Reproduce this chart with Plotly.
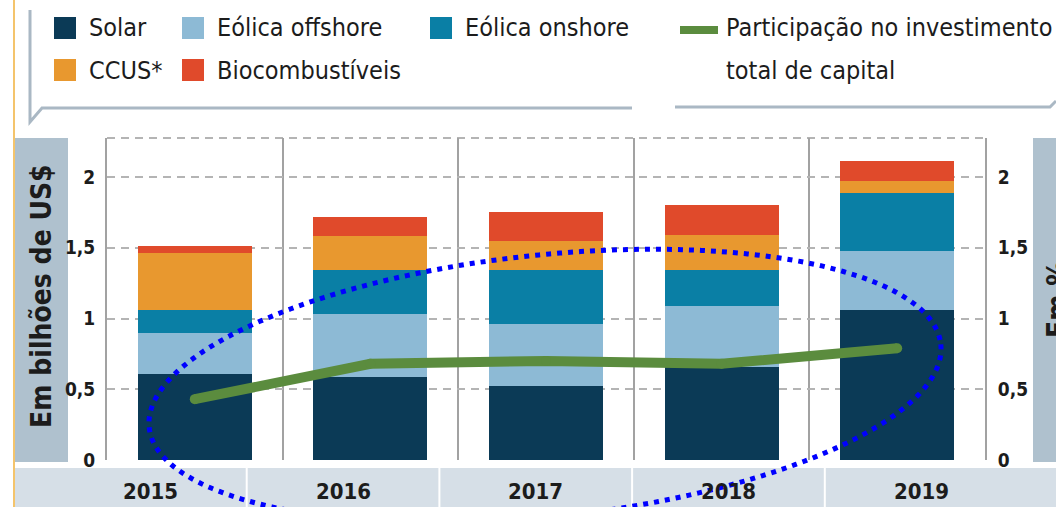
import numpy as np
import plotly.graph_objects as go

# ---- data (billions of US$ and % of total capital investment) ----
years = ["2015", "2016", "2017", "2018", "2019"]
solar = [0.61, 0.59, 0.52, 0.66, 1.06]
eolica_offshore = [0.29, 0.44, 0.44, 0.43, 0.42]
eolica_onshore = [0.16, 0.31, 0.38, 0.25, 0.41]
ccus = [0.40, 0.24, 0.21, 0.25, 0.08]
biocombustiveis = [0.05, 0.14, 0.20, 0.21, 0.14]
participacao = [0.43, 0.68, 0.70, 0.68, 0.79]

y_ticks = [0, 0.5, 1, 1.5, 2]
y_tick_labels = ["0", "0,5", "1", "1,5", "2"]

series_names = ["Solar", "Eólica offshore", "Eólica onshore", "CCUS*", "Biocombustíveis"]
line_label = ["Participação no investimento", "total de capital"]
y_title_left = "Em bilhões de US$"
y_title_right = "Em %"

# ---- styling ----
colors = ["#0b3a56", "#8dbad5", "#0a7fa5", "#e8982f", "#e04a2b"]
green = "#5b8c3e"
grid_col = "#b4b4b4"
axis_col = "#a2a2a2"
box_col = "#afc1ce"
band_col = "#d6dfe7"
bracket_col = "#aab8c4"
text_col = "#1c1c1c"
cond = "DejaVu Sans Condensed, Liberation Sans, sans-serif"

W, H = 1056, 507
ML, MR, MT, MB = 55, 38, 138, 47
PW, PH = W - ML - MR, H - MT - MB


def px(x):
    return (x - ML) / PW


def py(y):
    return (H - MB - y) / PH


fig = go.Figure()

for name, vals, col in zip(series_names, [solar, eolica_offshore, eolica_onshore, ccus, biocombustiveis], colors):
    fig.add_trace(go.Bar(x=years, y=vals, name=name, marker=dict(color=col, line=dict(width=0)),
                         width=0.65, showlegend=False, hoverinfo="x+y+name"))

fig.add_trace(go.Scatter(x=years, y=participacao, yaxis="y2", mode="lines+markers",
                         name=" ".join(line_label),
                         line=dict(color=green, width=10),
                         marker=dict(size=10, color=green), showlegend=False))

shapes = []
# left accent border
shapes.append(dict(type="line", xref="paper", yref="paper", x0=px(14), x1=px(14), y0=py(510), y1=py(-3),
                   line=dict(color="#f4c46c", width=2), layer="below"))
# axis-title boxes
shapes.append(dict(type="rect", xref="paper", yref="paper", x0=px(15), x1=px(68), y0=py(462), y1=py(138),
                   fillcolor=box_col, line=dict(width=0), layer="below"))
shapes.append(dict(type="rect", xref="paper", yref="paper", x0=px(1033), x1=px(1062), y0=py(462), y1=py(138),
                   fillcolor=box_col, line=dict(width=0), layer="below"))
# year band
shapes.append(dict(type="rect", xref="paper", yref="paper", x0=px(15), x1=px(1062), y0=py(512), y1=py(468),
                   fillcolor=band_col, line=dict(width=0), layer="below"))
cell_w = 192.7
cell_x0 = 54
for k in range(1, len(years)):
    xs = cell_x0 + cell_w * k
    shapes.append(dict(type="line", xref="paper", yref="paper", x0=px(xs), x1=px(xs), y0=py(512), y1=py(468),
                       line=dict(color="white", width=2), layer="below"))
# top dashed border of the plot
shapes.append(dict(type="line", xref="paper", yref="paper", x0=px(107), x1=px(985), y0=1, y1=1,
                   line=dict(color=grid_col, width=2, dash="8px,6px"), layer="below"))

# legend frame
pts_l = [(30, 10), (30, 122), (42, 108), (632, 108)]
shapes.append(dict(type="path", xref="paper", yref="paper",
                   path="M " + " L ".join(f"{px(a)},{py(b)}" for a, b in pts_l),
                   line=dict(color=bracket_col, width=3)))
pts_r = [(675, 107), (1050, 107), (1056, 101)]
shapes.append(dict(type="path", xref="paper", yref="paper",
                   path="M " + " L ".join(f"{px(a)},{py(b)}" for a, b in pts_r),
                   line=dict(color=bracket_col, width=3)))

# legend swatches
sw = 22
slots = [(54, 17), (182, 17), (430, 17), (54, 59), (182, 59)]
annotations = []
for (sx, sy), name, col in zip(slots, series_names, colors):
    shapes.append(dict(type="rect", xref="paper", yref="paper", x0=px(sx), x1=px(sx + sw),
                       y0=py(sy + sw), y1=py(sy), fillcolor=col, line=dict(width=0)))
    annotations.append(dict(text=name, xref="paper", yref="paper", x=px(sx + sw + 11), y=py(sy + sw / 2),
                            xanchor="left", yanchor="middle", showarrow=False,
                            font=dict(family=cond, size=25, color=text_col)))
shapes.append(dict(type="line", xref="paper", yref="paper", x0=px(680), x1=px(718), y0=py(30), y1=py(30),
                   line=dict(color=green, width=8)))
for i, ln in enumerate(line_label):
    annotations.append(dict(text=ln, xref="paper", yref="paper", x=px(724), y=py(28 + 42 * i),
                            xanchor="left", yanchor="middle", showarrow=False,
                            font=dict(family=cond, size=25, color=text_col)))

# year labels in the band
for i, yr in enumerate(years):
    annotations.append(dict(text=yr, xref="paper", yref="paper", x=px(cell_x0 + cell_w * (i + 0.5)), y=py(491),
                            xanchor="center", yanchor="middle", showarrow=False,
                            font=dict(family=cond, size=22, color=text_col, weight="bold")))

# axis titles (the right-hand one runs off the page edge)
annotations.append(dict(text=y_title_left, xref="paper", yref="paper", x=px(41), y=py(296), textangle=-90,
                        xanchor="center", yanchor="middle", showarrow=False,
                        font=dict(family=cond, size=28, color=text_col, weight="bold")))
annotations.append(dict(text=y_title_right, xref="paper", yref="paper", x=px(1057), y=py(300), textangle=-90,
                        xanchor="center", yanchor="middle", showarrow=False,
                        font=dict(family=cond, size=28, color=text_col, weight="bold")))

# highlight ellipse around the share line
cx, cy, ea, eb, th = 545, 386, 398, 131, np.deg2rad(-6)
t = np.linspace(0, 2 * np.pi, 240)
ex = cx + ea * np.cos(t) * np.cos(th) - eb * np.sin(t) * np.sin(th)
ey = cy + ea * np.cos(t) * np.sin(th) + eb * np.sin(t) * np.cos(th)
shapes.append(dict(type="path", xref="paper", yref="paper",
                   path="M " + " L ".join(f"{px(a):.5f},{py(b):.5f}" for a, b in zip(ex, ey)) + " Z",
                   line=dict(color="#0000ff", width=5, dash="5px,6px"), layer="above"))

yr_range = [0, (H - MB - MT) / 141.5]
tickfont = dict(family=cond, size=19, color=text_col, weight="bold")

fig.update_layout(
    width=W, height=H,
    margin=dict(l=ML, r=MR, t=MT, b=MB, pad=0),
    paper_bgcolor="white", plot_bgcolor="white",
    barmode="stack", showlegend=False,
    shapes=shapes, annotations=annotations,
    xaxis=dict(domain=[px(107), px(985)], type="category", range=[-0.5, 4.5],
               showticklabels=False, ticks="", tickson="boundaries",
               showgrid=True, gridcolor=axis_col, gridwidth=2,
               zeroline=False, showline=False),
    yaxis=dict(range=yr_range, tickvals=y_ticks, ticktext=y_tick_labels,
               showgrid=True, gridcolor=grid_col, gridwidth=2, griddash="8px,6px",
               zeroline=False, showline=True, linecolor=axis_col, linewidth=2,
               ticks="", ticklabelstandoff=6, tickfont=tickfont),
    yaxis2=dict(range=yr_range, tickvals=y_ticks, ticktext=y_tick_labels, overlaying="y", side="right",
                anchor="x", showgrid=False, zeroline=False, showline=True, linecolor=axis_col, linewidth=2,
                ticks="", ticklabelstandoff=7, tickfont=tickfont),
)

fig.write_html("out.html")
